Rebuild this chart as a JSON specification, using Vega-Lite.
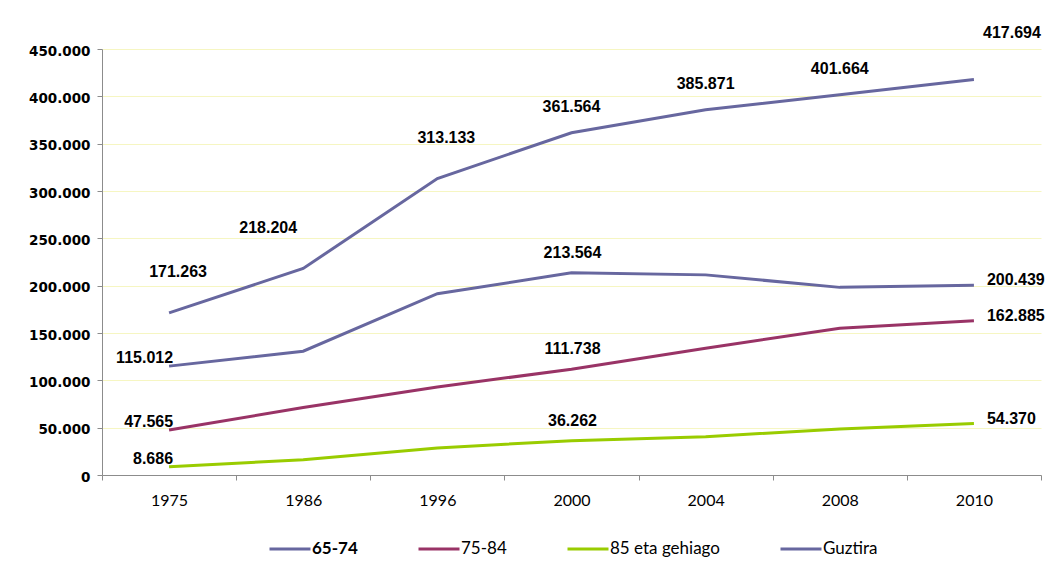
{
  "$schema": "https://vega.github.io/schema/vega-lite/v6.json",
  "width": 939,
  "height": 426,
  "autosize": {"type": "none"},
  "padding": {"left": 102, "top": 49, "right": 12, "bottom": 105},
  "background": "#ffffff",
  "config": {
    "view": {"stroke": null},
    "locale": {"number": {"decimal": ",", "thousands": ".", "grouping": [3], "currency": ["", " €"]}}
  },
  "data": {
    "values": [
      {"urtea": "1975", "serie": "65-74", "balioa": 115012},
      {"urtea": "1986", "serie": "65-74", "balioa": 130800},
      {"urtea": "1996", "serie": "65-74", "balioa": 191500},
      {"urtea": "2000", "serie": "65-74", "balioa": 213564},
      {"urtea": "2004", "serie": "65-74", "balioa": 211400},
      {"urtea": "2008", "serie": "65-74", "balioa": 198200},
      {"urtea": "2010", "serie": "65-74", "balioa": 200439},
      {"urtea": "1975", "serie": "75-84", "balioa": 47565},
      {"urtea": "1986", "serie": "75-84", "balioa": 71200},
      {"urtea": "1996", "serie": "75-84", "balioa": 93000},
      {"urtea": "2000", "serie": "75-84", "balioa": 111738},
      {"urtea": "2004", "serie": "75-84", "balioa": 134000},
      {"urtea": "2008", "serie": "75-84", "balioa": 154900},
      {"urtea": "2010", "serie": "75-84", "balioa": 162885},
      {"urtea": "1975", "serie": "85 eta gehiago", "balioa": 8686},
      {"urtea": "1986", "serie": "85 eta gehiago", "balioa": 16204},
      {"urtea": "1996", "serie": "85 eta gehiago", "balioa": 28633},
      {"urtea": "2000", "serie": "85 eta gehiago", "balioa": 36262},
      {"urtea": "2004", "serie": "85 eta gehiago", "balioa": 40471},
      {"urtea": "2008", "serie": "85 eta gehiago", "balioa": 48564},
      {"urtea": "2010", "serie": "85 eta gehiago", "balioa": 54370},
      {"urtea": "1975", "serie": "Guztira", "balioa": 171263},
      {"urtea": "1986", "serie": "Guztira", "balioa": 218204},
      {"urtea": "1996", "serie": "Guztira", "balioa": 313133},
      {"urtea": "2000", "serie": "Guztira", "balioa": 361564},
      {"urtea": "2004", "serie": "Guztira", "balioa": 385871},
      {"urtea": "2008", "serie": "Guztira", "balioa": 401664},
      {"urtea": "2010", "serie": "Guztira", "balioa": 417694}
    ]
  },
  "encoding": {
    "x": {
      "field": "urtea",
      "type": "ordinal",
      "sort": null,
      "scale": {"type": "band", "paddingInner": 0, "paddingOuter": 0},
      "axis": {
        "title": null,
        "labelAngle": 0,
        "tickBand": "extent",
        "labelFont": "Lato",
        "labelFontSize": 16,
        "labelColor": "#000000",
        "tickSize": 5,
        "labelPadding": 12,
        "domainColor": "#8c8c8c",
        "tickColor": "#8c8c8c",
        "grid": false
      }
    },
    "y": {
      "field": "balioa",
      "type": "quantitative",
      "scale": {"domain": [0, 450000], "nice": false},
      "axis": {
        "title": null,
        "values": [0, 50000, 100000, 150000, 200000, 250000, 300000, 350000, 400000, 450000],
        "format": ",d",
        "labelFont": "DejaVu Sans",
        "labelFontWeight": "bold",
        "labelFontSize": 13.5,
        "labelColor": "#000000",
        "labelOffset": 2,
        "tickSize": 5,
        "labelPadding": 7,
        "domainColor": "#8c8c8c",
        "tickColor": "#8c8c8c",
        "gridColor": "#f6f6c2",
        "gridWidth": 1
      }
    }
  },
  "layer": [
    {
      "mark": {"type": "line", "strokeWidth": 3},
      "encoding": {
        "color": {
          "field": "serie",
          "type": "nominal",
          "scale": {
            "domain": ["65-74", "75-84", "85 eta gehiago", "Guztira"],
            "range": ["#67679f", "#993366", "#99cc00", "#67679f"]
          },
          "legend": {
            "orient": "none",
            "legendX": 166,
            "legendY": 478,
            "direction": "horizontal",
            "title": null,
            "symbolType": "stroke",
            "symbolSize": 1681,
            "symbolStrokeWidth": 3,
            "labelFont": "Lato",
            "labelFontSize": 17,
            "labelColor": "#000000",
            "labelOffset": 0,
            "labelLimit": 300,
            "columnPadding": 54,
            "padding": 0,
            "encode": {
              "labels": {
                "update": {
                  "fontWeight": {"signal": "datum.value === '65-74' ? 'bold' : 'normal'"}
                }
              }
            }
          }
        }
      }
    },
    {
      "transform": [{"filter": "datum.serie != 'Guztira' && datum.urtea == '2000'"}],
      "mark": {"type": "text", "font": "Liberation Sans", "fontWeight": "bold", "fontSize": 16, "color": "#000000", "align": "center", "dx": 1, "dy": -20},
      "encoding": {"text": {"field": "balioa", "type": "quantitative", "format": ",d"}}
    },
    {
      "transform": [{"filter": "datum.serie == 'Guztira' && (datum.urtea == '1975' || datum.urtea == '1996')"}],
      "mark": {"type": "text", "font": "Liberation Sans", "fontWeight": "bold", "fontSize": 16, "color": "#000000", "align": "center", "dx": 9, "dy": -41},
      "encoding": {"text": {"field": "balioa", "type": "quantitative", "format": ",d"}}
    },
    {
      "transform": [{"filter": "datum.serie == 'Guztira' && (datum.urtea == '2000' || datum.urtea == '2004' || datum.urtea == '2008')"}],
      "mark": {"type": "text", "font": "Liberation Sans", "fontWeight": "bold", "fontSize": 16, "color": "#000000", "align": "center", "dx": 0, "dy": -26},
      "encoding": {"text": {"field": "balioa", "type": "quantitative", "format": ",d"}}
    },
    {
      "transform": [{"filter": "datum.serie == 'Guztira' && datum.urtea == '1986'"}],
      "mark": {"type": "text", "font": "Liberation Sans", "fontWeight": "bold", "fontSize": 16, "color": "#000000", "align": "center", "dx": -35, "dy": -40},
      "encoding": {"text": {"field": "balioa", "type": "quantitative", "format": ",d"}}
    },
    {
      "transform": [{"filter": "datum.serie == 'Guztira' && datum.urtea == '2010'"}],
      "mark": {"type": "text", "font": "Liberation Sans", "fontWeight": "bold", "fontSize": 16, "color": "#000000", "align": "center", "dx": 38, "dy": -47},
      "encoding": {"text": {"field": "balioa", "type": "quantitative", "format": ",d"}}
    },
    {
      "transform": [{"filter": "datum.serie != 'Guztira' && datum.urtea == '2010'"}],
      "mark": {"type": "text", "font": "Liberation Sans", "fontWeight": "bold", "fontSize": 16, "color": "#000000", "align": "left", "dx": 13, "dy": -5},
      "encoding": {"text": {"field": "balioa", "type": "quantitative", "format": ",d"}}
    },
    {
      "transform": [{"filter": "datum.serie != 'Guztira' && datum.urtea == '1975'"}],
      "mark": {"type": "text", "font": "Liberation Sans", "fontWeight": "bold", "fontSize": 16, "color": "#000000", "align": "right", "dx": 4, "dy": -8},
      "encoding": {"text": {"field": "balioa", "type": "quantitative", "format": ",d"}}
    }
  ]
}
